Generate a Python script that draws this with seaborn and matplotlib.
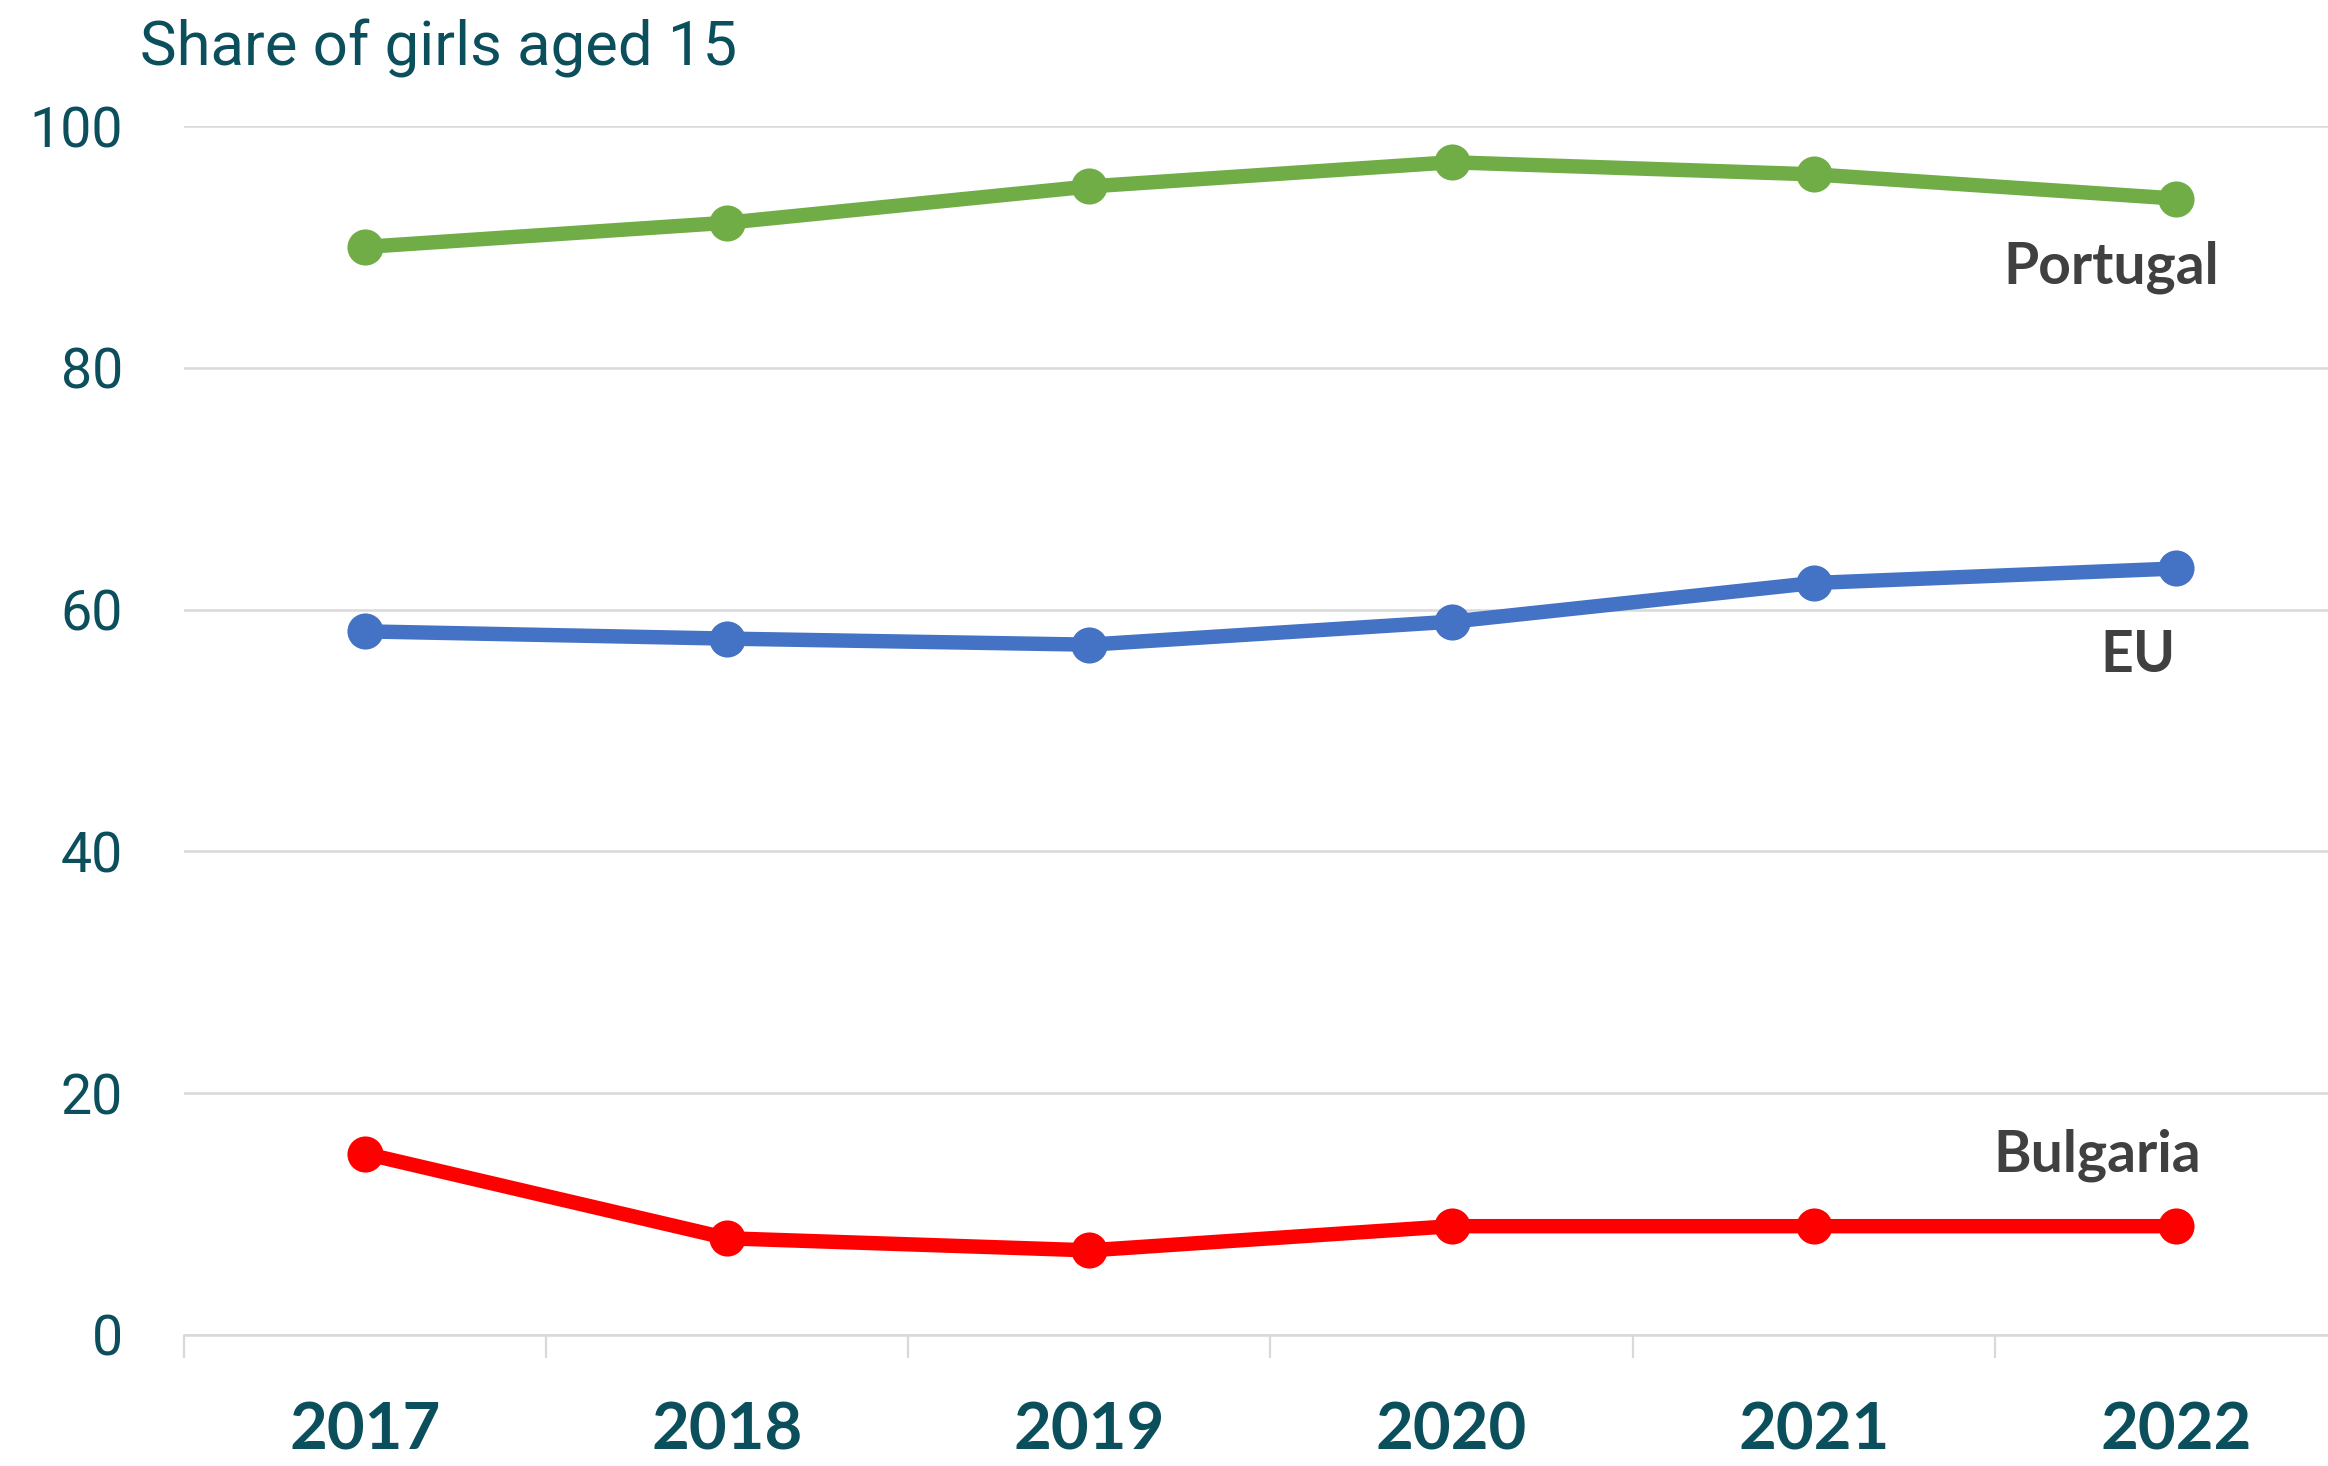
import matplotlib
matplotlib.use("Agg")
import matplotlib.pyplot as plt
import numpy as np
import pandas as pd
import seaborn as sns

years = ["2017", "2018", "2019", "2020", "2021", "2022"]
portugal = [90.0, 92.0, 95.0, 97.0, 96.0, 94.0]
eu = [58.2, 57.6, 57.1, 59.0, 62.2, 63.4]
bulgaria = [15.0, 8.0, 7.0, 9.0, 9.0, 9.0]
y_ticks = [0, 20, 40, 60, 80, 100]
title = "Share of girls aged 15"

COLORS = {"Portugal": "#70AD47", "EU": "#4472C4", "Bulgaria": "#FF0000"}
TEAL = "#0B4F5C"
LABEL_GREY = "#404040"
GRID = "#D9D9D9"

sns.set_theme(style="white")
plt.rcParams["font.family"] = ["Roboto", "DejaVu Sans"]
BOLD_FONT = ["Lato", "DejaVu Sans"]

pos = np.arange(len(years))
df = pd.concat([
    pd.DataFrame({"pos": pos, "value": vals, "country": name})
    for name, vals in [("Portugal", portugal), ("EU", eu), ("Bulgaria", bulgaria)]
])

fig = plt.figure(figsize=(11.64, 7.33), dpi=200)
ax = fig.add_axes([184 / 2328, 1 - 1335 / 1466, 1 - 184 / 2328, (1335 - 126) / 1466])

sns.lineplot(data=df, x="pos", y="value", hue="country", palette=COLORS,
             marker="o", markersize=13, markeredgewidth=0, linewidth=5.2,
             legend=False, ax=ax, clip_on=False)

ax.set_xlim(-0.5, 5.42)
ax.set_ylim(0, 100)
ax.set_yticks(y_ticks)
ax.set_yticklabels([str(t) for t in y_ticks], fontsize=20, color=TEAL)
ax.tick_params(axis="y", length=0, pad=22)
ax.set_xticks(pos)
ax.set_xticklabels(years, fontsize=23.5, fontweight="bold", color=TEAL, family=BOLD_FONT)
ax.set_xticks(np.arange(-0.5, 5.0, 1.0), minor=True)
ax.tick_params(axis="x", which="major", length=0, pad=24)
ax.tick_params(axis="x", which="minor", length=8.3, width=0.8, color=GRID, bottom=True)
ax.set_xlabel("")
ax.set_ylabel("")
ax.yaxis.grid(True, color=GRID, linewidth=0.9)
ax.set_axisbelow(True)
for s in ["top", "right", "left"]:
    ax.spines[s].set_visible(False)
ax.spines["bottom"].set_color(GRID)
ax.spines["bottom"].set_linewidth(0.9)

ax.text(5.12, 88.3, "Portugal", ha="right", va="center", fontsize=20.5,
        fontweight="bold", color=LABEL_GREY, family=BOLD_FONT)
ax.text(5.0, 56.2, "EU", ha="right", va="center", fontsize=20.5,
        fontweight="bold", color=LABEL_GREY, family=BOLD_FONT)
ax.text(5.07, 14.9, "Bulgaria", ha="right", va="center", fontsize=20.5,
        fontweight="bold", color=LABEL_GREY, family=BOLD_FONT)

fig.text(140 / 2328, 1 - 65 / 1466, title, ha="left", va="baseline",
         fontsize=22.2, color=TEAL)

fig.savefig("out.png", dpi=200)
